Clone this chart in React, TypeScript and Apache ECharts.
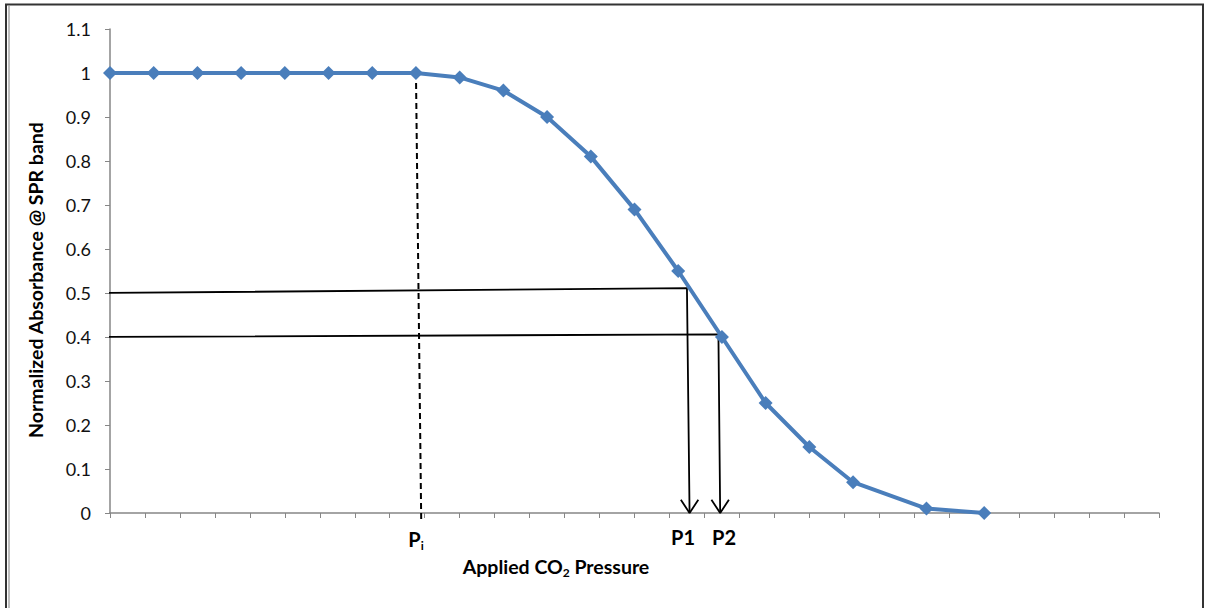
import React, { useEffect, useRef } from "react";
import * as echarts from "echarts";

// Applied CO2 pressure (arbitrary units) and normalized absorbance
const pressure = [0, 2.5, 5, 7.5, 10, 12.5, 15, 17.5, 20, 22.5, 25, 27.5, 30, 32.5, 35, 37.5, 40, 42.5, 46.7, 50];
const absorbance = [1, 1, 1, 1, 1, 1, 1, 1, 0.99, 0.96, 0.9, 0.81, 0.69, 0.55, 0.4, 0.25, 0.15, 0.07, 0.01, 0];

// hand-drawn guide lines (data coordinates)
const p1Guide = [[-0.4, 0.5], [33.0, 0.511], [33.15, 0]];
const p2Guide = [[-0.4, 0.4], [34.8, 0.406], [34.9, 0]];
const piGuide = [[17.5, 1], [17.8, -0.015]];
const p1Arrow = [[32.65, 0.03], [33.15, 0], [33.65, 0.03]];
const p2Arrow = [[34.4, 0.03], [34.9, 0], [35.4, 0.03]];

const yTicks = { min: 0, max: 1.1, interval: 0.1 };
const xTicks = { min: 0, max: 60, interval: 2 };

const FONT = "Lato, 'Open Sans', sans-serif";
const BLUE = "#4a7ebb";
const AXIS = "#868686";

export default function App() {
  const ref = useRef<HTMLDivElement>(null);
  useEffect(() => {
    if (!ref.current) return;
    const chart = echarts.init(ref.current, null, { renderer: "svg" });
    const guide = (data: number[][], dashed = false) => ({
      type: "line",
      data,
      symbol: "none",
      clip: false,
      silent: true,
      z: 1,
      lineStyle: { color: "#000", width: dashed ? 2 : 1.8, type: dashed ? [6, 4] : "solid" },
    });
    const sub = { fontFamily: FONT, fontWeight: "bold", fontSize: 12, lineHeight: 12, verticalAlign: "bottom" };
    chart.setOption({
      animation: false,
      backgroundColor: "#fff",
      grid: { left: 110, right: 49, top: 29, bottom: 95 },
      xAxis: {
        type: "value",
        min: xTicks.min,
        max: xTicks.max,
        interval: xTicks.interval,
        axisLine: { show: true, onZero: false, lineStyle: { color: AXIS, width: 1.5 } },
        axisTick: { show: true, length: 5, lineStyle: { color: AXIS } },
        axisLabel: { show: false },
        splitLine: { show: false },
      },
      yAxis: {
        type: "value",
        min: yTicks.min,
        max: yTicks.max,
        interval: yTicks.interval,
        axisLine: { show: true, lineStyle: { color: AXIS, width: 1.5 } },
        axisTick: { show: true, length: 5, lineStyle: { color: AXIS } },
        axisLabel: {
          margin: 19,
          fontFamily: FONT,
          fontSize: 18,
          color: "#111",
          formatter: (v: number) => String(Math.round(v * 10) / 10),
        },
        splitLine: { show: false },
      },
      series: [
        guide(p1Guide),
        guide(p2Guide),
        guide(piGuide, true),
        guide(p1Arrow),
        guide(p2Arrow),
        {
          type: "line",
          z: 3,
          data: pressure.map((p, i) => [p, absorbance[i]]),
          symbol: "diamond",
          symbolSize: 14,
          itemStyle: { color: BLUE },
          lineStyle: { color: BLUE, width: 4 },
        },
      ],
      graphic: [
        {
          type: "rect",
          shape: { x: 6, y: 4.5, width: 1197, height: 612 },
          style: { fill: "none", stroke: "#333", lineWidth: 2 },
          silent: true,
        },
        {
          type: "line",
          shape: { x1: 9, y1: 6, x2: 9, y2: 608 },
          style: { stroke: "#aaa", lineWidth: 1.5 },
          silent: true,
        },
        {
          type: "text",
          x: 35,
          y: 280,
          rotation: Math.PI / 2,
          style: {
            text: "Normalized Absorbance @ SPR band",
            font: `bold 19.5px ${FONT}`,
            fill: "#000",
            align: "center",
            verticalAlign: "middle",
          },
        },
        {
          type: "text",
          x: 556,
          y: 566,
          style: {
            text: "{a|Applied CO}{s|2}{a| Pressure}",
            fill: "#000",
            align: "center",
            verticalAlign: "middle",
            rich: {
              a: { fontFamily: FONT, fontWeight: "bold", fontSize: 19.5, lineHeight: 24 },
              s: sub,
            },
          },
        },
        {
          type: "text",
          x: 416,
          y: 539,
          style: {
            text: "{a|P}{s|i}",
            fill: "#000",
            align: "center",
            verticalAlign: "middle",
            rich: {
              a: { fontFamily: FONT, fontWeight: "bold", fontSize: 20, lineHeight: 24 },
              s: sub,
            },
          },
        },
        {
          type: "text",
          x: 683,
          y: 537,
          style: { text: "P1", font: `bold 20px ${FONT}`, fill: "#000", align: "center", verticalAlign: "middle" },
        },
        {
          type: "text",
          x: 724,
          y: 537,
          style: { text: "P2", font: `bold 20px ${FONT}`, fill: "#000", align: "center", verticalAlign: "middle" },
        },
      ],
    });
    return () => chart.dispose();
  }, []);
  return (
    <div
      ref={ref}
      style={{ position: "fixed", left: 0, top: 0, width: 1208, height: 608, background: "#fff" }}
    />
  );
}
